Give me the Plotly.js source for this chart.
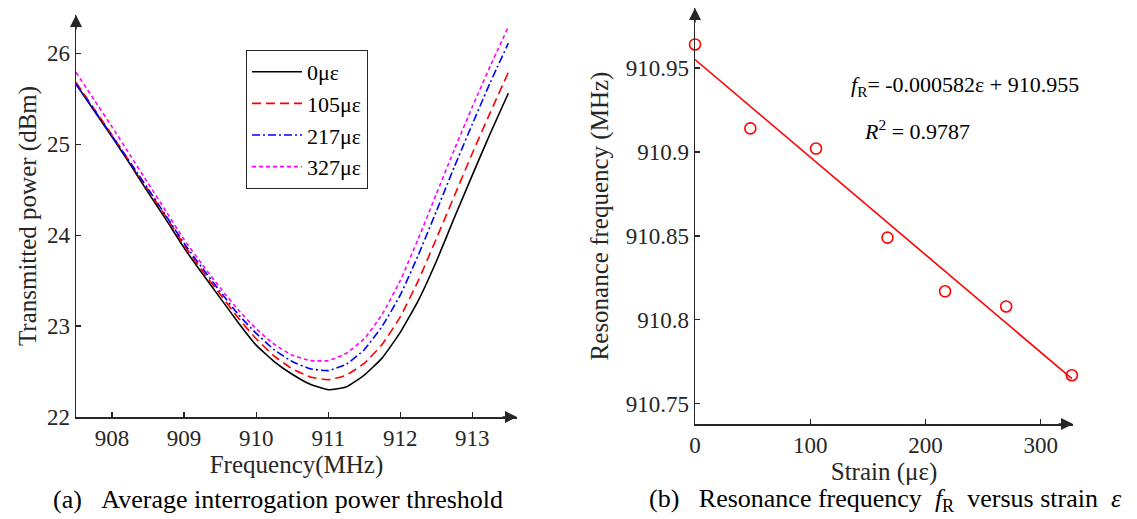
<!DOCTYPE html>
<html>
<head>
<meta charset="utf-8">
<script src="https://cdn.plot.ly/plotly-3.0.1.min.js"></script>
<style>html,body{margin:0;padding:0;background:#fff;}#chart{width:1137px;height:519px;}</style>
</head>
<body>
<div id="chart"></div>
<script>
// ---- Panel (a): transmitted power vs frequency ----
const freqMHz = [907.5, 907.75, 908.0, 908.25, 908.5, 908.75, 909.0, 909.25, 909.5, 909.75, 910.0, 910.25, 910.5, 910.75, 911.0, 911.25, 911.5, 911.75, 912.0, 912.25, 912.5, 912.75, 913.0, 913.25, 913.5];
const power0 = [25.66, 25.37, 25.08, 24.78, 24.47, 24.17, 23.86, 23.58, 23.31, 23.04, 22.79, 22.61, 22.47, 22.36, 22.30, 22.33, 22.46, 22.65, 22.93, 23.28, 23.71, 24.19, 24.66, 25.12, 25.56];
const power105 = [25.68, 25.39, 25.10, 24.80, 24.50, 24.20, 23.89, 23.61, 23.35, 23.09, 22.86, 22.67, 22.53, 22.44, 22.41, 22.46, 22.59, 22.80, 23.10, 23.50, 23.96, 24.43, 24.90, 25.35, 25.79];
const power217 = [25.66, 25.38, 25.09, 24.80, 24.51, 24.21, 23.91, 23.64, 23.38, 23.13, 22.92, 22.74, 22.61, 22.53, 22.51, 22.58, 22.74, 23.00, 23.34, 23.78, 24.26, 24.75, 25.22, 25.68, 26.11];
const power327 = [25.79, 25.49, 25.19, 24.88, 24.57, 24.26, 23.95, 23.68, 23.42, 23.18, 22.97, 22.80, 22.68, 22.62, 22.62, 22.70, 22.86, 23.13, 23.50, 23.96, 24.45, 24.94, 25.41, 25.86, 26.29];
const seriesNames = ["0με", "105με", "217με", "327με"];
const xTicksA = [908, 909, 910, 911, 912, 913];
const yTicksA = [22, 23, 24, 25, 26];

// ---- Panel (b): resonance frequency vs strain ----
const strain = [0, 48, 105, 167, 217, 270, 327];
const resFreq = [910.964, 910.914, 910.902, 910.849, 910.817, 910.808, 910.767];
const fitStrain = [0, 327];
const fitFreq = [910.955, 910.765];
const xTicksB = [0, 100, 200, 300];
const yTicksB = [910.75, 910.8, 910.85, 910.9, 910.95];
const yTickTextB = ["910.75", "910.8", "910.85", "910.9", "910.95"];

const W = 1137, H = 519;
const FONT = "Liberation Serif, Times New Roman, serif";
const AX = "#262626";
const px = v => v / W;
const py = v => 1 - v / H;

const xRangeA = [907.5, 913.62], yRangeA = [22, 26.42];
const xRangeB = [0, 328], yRangeB = [910.738, 910.9857];

const lineStyles = [
  {color: "#000000", dash: "solid"},
  {color: "#ff0000", dash: "9px,5px"},
  {color: "#0000ff", dash: "8px,3px,2px,3px"},
  {color: "#ff00ff", dash: "4px,3px"}
];
const powers = [power0, power105, power217, power327];

const traces = powers.map((p, i) => ({
  type: "scatter", mode: "lines", x: freqMHz, y: p, name: seriesNames[i],
  xaxis: "x", yaxis: "y",
  line: {color: lineStyles[i].color, dash: lineStyles[i].dash, width: 1.6, shape: "spline", smoothing: 0.4},
  showlegend: true
}));

traces.push({
  type: "scatter", mode: "lines", x: fitStrain, y: fitFreq, xaxis: "x2", yaxis: "y2",
  line: {color: "#ff0000", width: 1.6}, showlegend: false, cliponaxis: false
});
traces.push({
  type: "scatter", mode: "markers", x: strain, y: resFreq, xaxis: "x2", yaxis: "y2",
  marker: {symbol: "circle-open", size: 11, color: "#ff0000", line: {width: 1.6, color: "#ff0000"}},
  showlegend: false, cliponaxis: false
});

const axCommon = {
  showline: true, linecolor: AX, linewidth: 1.5, showgrid: false, zeroline: false,
  ticks: "inside", ticklen: 5, tickwidth: 1.2, tickcolor: AX,
  tickfont: {family: FONT, size: 23, color: AX}, automargin: false, fixedrange: true
};

function arrow(xref, yref, x, y, ax, ay) {
  return {xref: xref, yref: yref, x: x, y: y, ax: ax, ay: ay, axref: "pixel", ayref: "pixel",
    text: "", showarrow: true, arrowhead: 2, arrowsize: 1.6, arrowwidth: 1.5, arrowcolor: AX, standoff: 0};
}

const layout = {
  width: W, height: H,
  margin: {l: 0, r: 0, t: 0, b: 0},
  paper_bgcolor: "#ffffff", plot_bgcolor: "rgba(0,0,0,0)",
  font: {family: FONT, color: AX},
  xaxis: Object.assign({}, axCommon, {
    domain: [px(76), px(517)], range: xRangeA, tickvals: xTicksA, anchor: "y",
    title: {text: "Frequency(MHz)", font: {family: FONT, size: 25, color: AX}, standoff: 4}
  }),
  yaxis: Object.assign({}, axCommon, {
    domain: [py(417), py(15)], range: yRangeA, tickvals: yTicksA, anchor: "x",
    title: {text: "Transmitted power (dBm)", font: {family: FONT, size: 25, color: AX}, standoff: 3}
  }),
  xaxis2: Object.assign({}, axCommon, {
    domain: [px(695), px(1073)], range: xRangeB, tickvals: xTicksB, anchor: "y2",
    title: {text: "Strain (με)", font: {family: FONT, size: 25, color: AX}, standoff: 0}
  }),
  yaxis2: Object.assign({}, axCommon, {
    domain: [py(424), py(8)], range: yRangeB, tickvals: yTicksB, ticktext: yTickTextB, anchor: "x2",
    title: {text: "Resonance frequency (MHz)", font: {family: FONT, size: 25, color: AX}, standoff: 10}
  }),
  legend: {
    x: px(246), y: py(50), xanchor: "left", yanchor: "top",
    bgcolor: "#ffffff", bordercolor: AX, borderwidth: 1,
    font: {family: FONT, size: 22, color: "#000"}, tracegroupgap: 0, itemwidth: 50
  },
  annotations: [
    arrow("x", "y", xRangeA[1], yRangeA[0], -16, 0),
    arrow("x", "y", xRangeA[0], yRangeA[1], 0, 16),
    arrow("x2", "y2", xRangeB[1], yRangeB[0], -16, 0),
    arrow("x2", "y2", xRangeB[0], yRangeB[1], 0, 16),
    {xref: "paper", yref: "paper", x: px(849), y: py(86), xanchor: "left", yanchor: "middle", showarrow: false,
      text: "<i>f</i><sub>R</sub>= -0.000582ε + 910.955", font: {family: FONT, size: 22, color: "#000"}},
    {xref: "paper", yref: "paper", x: px(862), y: py(130), xanchor: "left", yanchor: "middle", showarrow: false,
      text: "<i>R</i><sup>2</sup> = 0.9787", font: {family: FONT, size: 22, color: "#000"}},
    {xref: "paper", yref: "paper", x: px(278), y: py(499), xanchor: "center", yanchor: "middle", showarrow: false,
      text: "(a)\u00a0\u00a0\u00a0Average interrogation power threshold", font: {family: FONT, size: 26, color: "#000"}},
    {xref: "paper", yref: "paper", x: px(885), y: py(500), xanchor: "center", yanchor: "middle", showarrow: false,
      text: "(b)\u00a0\u00a0\u00a0Resonance frequency\u00a0\u00a0<i>f</i><sub>R</sub>\u00a0\u00a0versus strain\u00a0\u00a0<i>ε</i>", font: {family: FONT, size: 26, color: "#000"}}
  ]
};

Plotly.newPlot("chart", traces, layout, {staticPlot: true, displayModeBar: false});
</script>
</body>
</html>
